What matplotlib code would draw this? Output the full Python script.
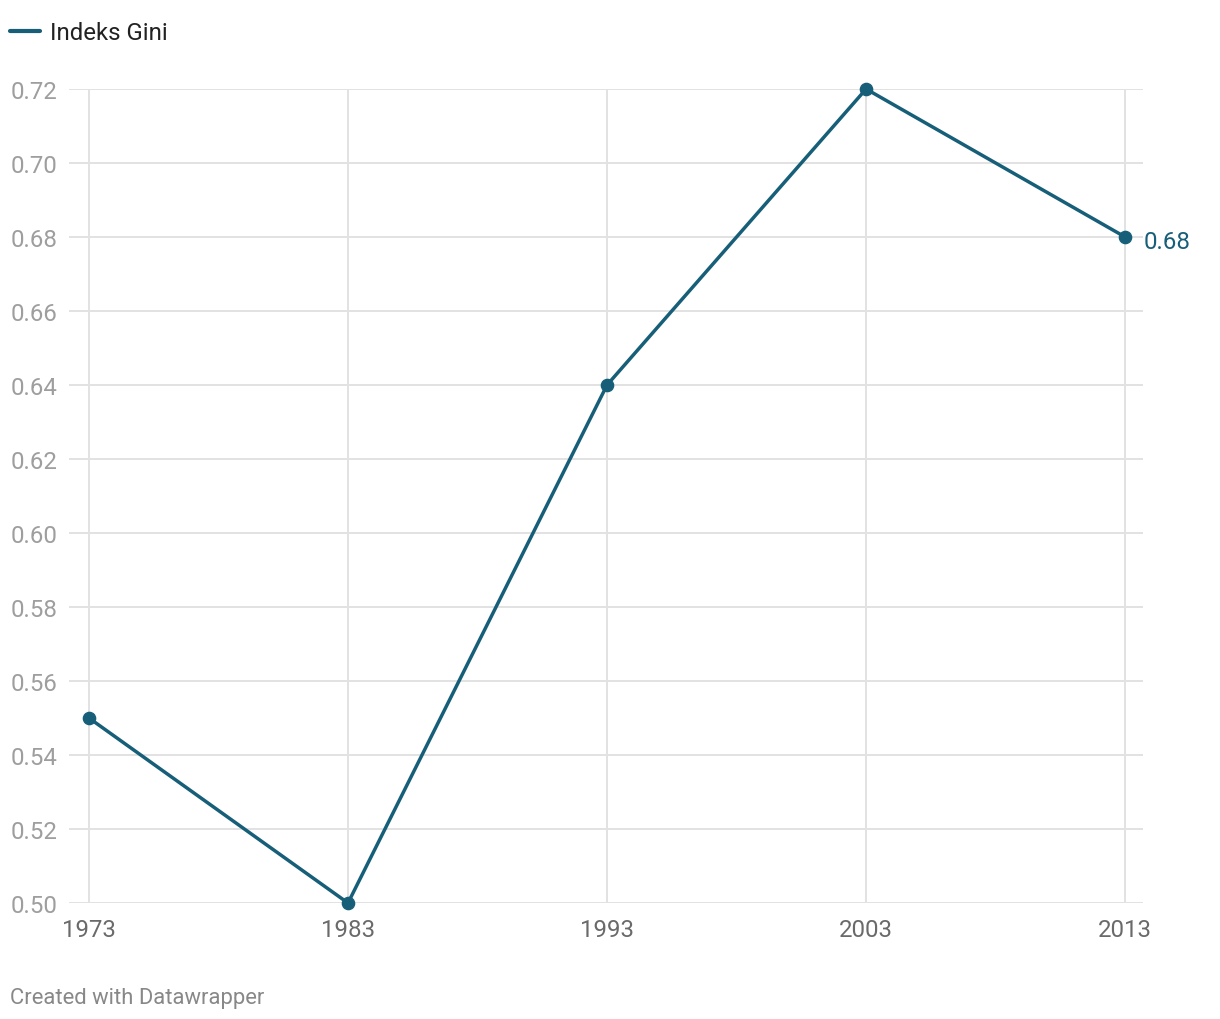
import numpy as np
import matplotlib.pyplot as plt
from matplotlib.lines import Line2D

plt.rcParams['font.family'] = ['Roboto', 'DejaVu Sans']

years = [1973, 1983, 1993, 2003, 2013]
gini = [0.55, 0.50, 0.64, 0.72, 0.68]
yticks = [0.50, 0.52, 0.54, 0.56, 0.58, 0.60, 0.62, 0.64, 0.66, 0.68, 0.70, 0.72]
series_name = 'Indeks Gini'
footer = 'Created with Datawrapper'

line_color = '#175f78'
grid_color = '#e2e2e2'

W, H = 1220, 1020
fig = plt.figure(figsize=(W / 100, H / 100), dpi=100)
ax = fig.add_axes([69 / W, 1 - 904 / H, (1143 - 69) / W, (904 - 90) / H])

ax.plot(years, gini, color=line_color, linewidth=2.5, marker='o',
        markersize=8.8, zorder=3, clip_on=False)

ax.set_ylim(0.50, 0.72)
ax.set_xlim(1972.23, 2013.69)
ax.set_yticks(yticks)
ax.set_yticklabels([f'{v:.2f}' for v in yticks])
ax.set_xticks(years)
ax.set_xticklabels([str(y) for y in years])

for v in yticks:
    ax.axhline(v, color=grid_color, linewidth=1.4, zorder=1)
for y in years:
    ax.axvline(y, color=grid_color, linewidth=1.4, zorder=1)

for s in ax.spines.values():
    s.set_visible(False)
ax.tick_params(axis='both', length=0)
ax.tick_params(axis='y', labelsize=17.3, labelcolor='#9e9e9e', pad=8.5)
ax.tick_params(axis='x', labelsize=17.3, labelcolor='#6a6a6a', pad=11)

# end label
ax.annotate(f'{gini[-1]:.2f}', xy=(years[-1], gini[-1]), xytext=(13, -3),
            textcoords='offset points', color=line_color, fontsize=17.3,
            va='center', ha='left', annotation_clip=False)

# legend
fig.add_artist(Line2D([10 / W, 40 / W], [1 - 32 / H, 1 - 32 / H],
                      color=line_color, linewidth=3, solid_capstyle='round'))
fig.text(50 / W, 1 - 34 / H, series_name, fontsize=17.3, color='#222222',
         va='center', ha='left')

fig.text(10 / W, 1 - 999 / H, footer, fontsize=15.8, color='#888888',
         va='center', ha='left')

fig.savefig('out.png', dpi=100, facecolor='white')
